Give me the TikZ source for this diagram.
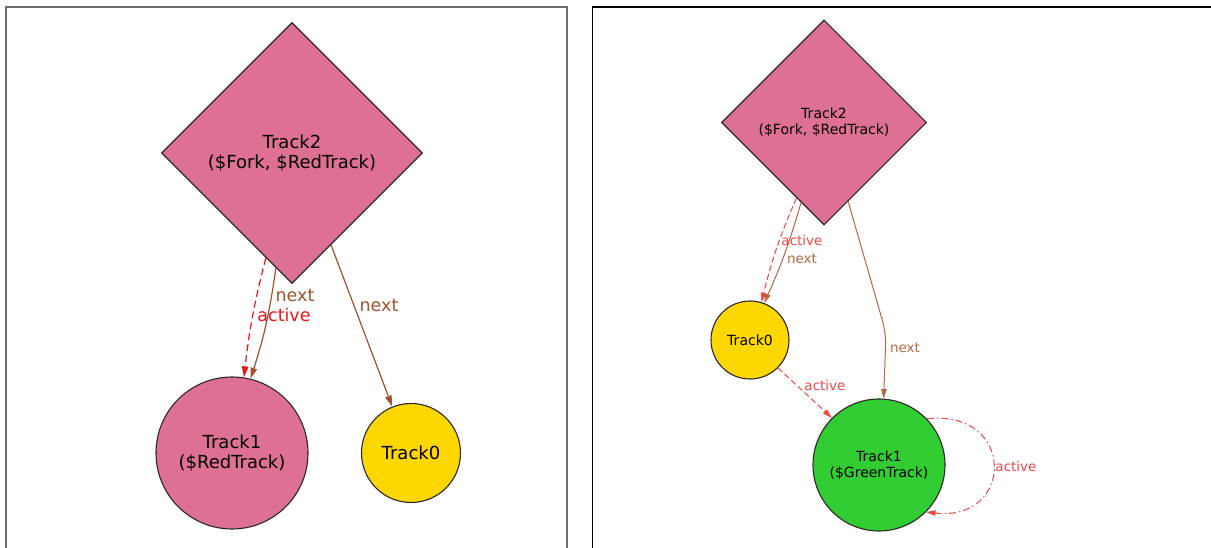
\documentclass[tikz,border=0pt]{standalone}
\usepackage{fontspec}
\setmainfont{DejaVu Sans}
\usetikzlibrary{shapes.geometric,arrows.meta}

\definecolor{trackpink}{RGB}{222,113,147}
\definecolor{trackgold}{RGB}{255,215,0}
\definecolor{trackgreen}{RGB}{50,205,50}
\definecolor{nextbrown}{RGB}{160,82,45}
\definecolor{activered}{RGB}{230,25,25}
\definecolor{nextbrownsoft}{RGB}{180,105,65}
\definecolor{activeredsoft}{RGB}{238,72,72}
\definecolor{outline}{RGB}{40,40,40}
\definecolor{framegray}{RGB}{110,110,110}

\tikzset{
  bigfont/.style={font=\fontsize{18}{20.5}\selectfont},
  labelfont/.style={font=\fontsize{17.5}{20}\selectfont},
  smallfont/.style={font=\fontsize{14}{16}\selectfont},
  smalllabelfont/.style={font=\fontsize{13.5}{16}\selectfont},
  forknode/.style={diamond, aspect=1, draw=outline, line width=1.1pt,
    fill=trackpink, inner sep=0pt, align=center},
  tracknode/.style={circle, draw=outline, line width=1.1pt, inner sep=0pt,
    align=center},
  bignext/.style={draw=nextbrown, line width=1.2pt,
    -{Triangle[length=11pt,width=6.5pt]}, nextbrown},
  bigactive/.style={draw=activered, line width=1.2pt,
    dash pattern=on 7pt off 4pt,
    -{Triangle[length=11pt,width=6.5pt]}, activered},
  smallnext/.style={draw=nextbrownsoft, line width=1pt,
    -{Triangle[length=9.5pt,width=5.5pt]}},
  smallactive/.style={draw=activeredsoft, line width=1pt,
    dash pattern=on 6pt off 3pt,
    -{Triangle[length=9.5pt,width=5.5pt]}},
  loopactive/.style={draw=activeredsoft, line width=1pt,
    dash pattern=on 7pt off 3pt on 1.5pt off 3pt,
    -{Triangle[length=9.5pt,width=5.5pt]}},
  bignextlabel/.style={labelfont, text=nextbrown, inner sep=0pt},
  bigactivelabel/.style={labelfont, text=activered, inner sep=0pt},
  smallnextlabel/.style={smalllabelfont, text=nextbrownsoft, inner sep=0pt},
  smallactivelabel/.style={smalllabelfont, text=activeredsoft, inner sep=0pt},
}

\begin{document}
\begin{tikzpicture}[x=1pt, y=-1pt]
  \useasboundingbox (0,0) rectangle (1211,548);
  \fill[white] (0,0) rectangle (1211,548);

  % panel frames (open at the bottom)
  \draw[framegray, line width=1.5pt] (5.8,548) -- (5.8,6.8) -- (567,6.8) -- (567,548);
  \draw[black, line width=1.2pt] (592.5,548) -- (592.5,7) -- (1215,7);

  % ---------- left panel ----------
  \node[forknode, bigfont, minimum width=261pt, minimum height=261pt]
    (lfork) at (292,153) {Track2\\(\$Fork, \$RedTrack)};
  \node[tracknode, bigfont, fill=trackpink, minimum size=152pt]
    (lred) at (232,453) {Track1\\(\$RedTrack)};
  \node[tracknode, bigfont, fill=trackgold, minimum size=99pt]
    (lzero) at (411,453) {Track0};

  \draw[bigactive] (lfork.-104) to[bend right=4] (lred.81);
  \draw[bignext] (lfork.-98) to[bend left=5] (lred.76);
  \draw[bignext] (lfork.-67.6) -- (lzero.112.8);

  \node[bignextlabel] (lnextA) at (295,295) {next};
  \node[bigactivelabel] (lactA) at (284,315) {active};
  \node[bignextlabel] (lnextB) at (379,305) {next};

  % ---------- right panel ----------
  \node[forknode, smallfont, minimum width=205pt, minimum height=205pt]
    (rfork) at (824,122.5) {Track2\\(\$Fork, \$RedTrack)};
  \node[tracknode, smallfont, fill=trackgold, minimum size=78pt]
    (rzero) at (750,340) {Track0};
  \node[tracknode, smallfont, fill=trackgreen, minimum size=132pt]
    (rgreen) at (879,465) {Track1\\(\$GreenTrack)};

  \coordinate (rkink) at (886,333);

  \draw[smallactive] (rfork.-110.5) to[bend right=5] (rzero.73);
  \draw[smallnext] (rfork.-106.6) to[bend left=4] (rzero.69);
  \draw[smallnext, rounded corners=12pt] (rfork.-73.4) -- (rkink) -- (rgreen.86);
  \draw[smallactive] (rzero.-45) -- (rgreen.135.6);
  \draw[loopactive] (rgreen.44.4) .. controls +(89,-10) and +(89,10) .. (rgreen.-45);

  \node[smallactivelabel] (ractA) at (802,240) {active};
  \node[smallnextlabel] (rnextA) at (802,259) {next};
  \node[smallnextlabel] (rnextB) at (905,348) {next};
  \node[smallactivelabel] (ractB) at (825,385) {active};
  \node[smallactivelabel] (ractC) at (1016,466) {active};
\end{tikzpicture}
\end{document}
